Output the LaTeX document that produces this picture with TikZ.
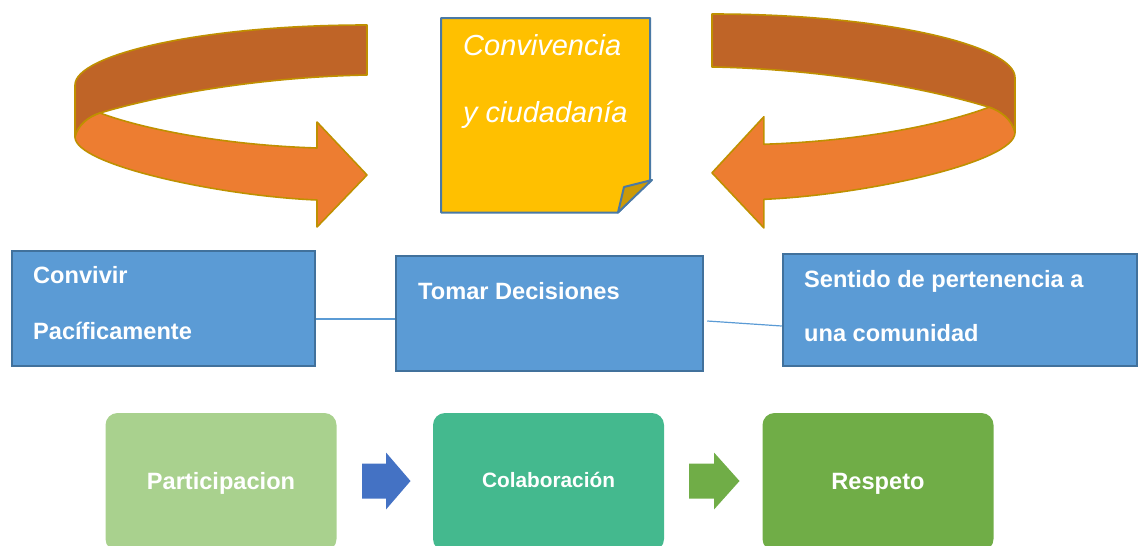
\documentclass[tikz,border=0pt]{standalone}
\usepackage{fontspec}
\setmainfont{Liberation Sans}
\definecolor{ringdark}{HTML}{BF6427}
\definecolor{ringfront}{HTML}{ED7D31}
\definecolor{ringborder}{HTML}{BF9000}
\definecolor{notefill}{HTML}{FFC000}
\definecolor{notefold}{HTML}{CC9A06}
\definecolor{noteborder}{HTML}{4A79A5}
\definecolor{boxfill}{HTML}{5B9BD5}
\definecolor{boxborder}{HTML}{41719C}
\definecolor{linkcol}{HTML}{5B9BD5}
\definecolor{partfill}{HTML}{A9D18E}
\definecolor{colabfill}{HTML}{44B98E}
\definecolor{respfill}{HTML}{70AD47}
\definecolor{bluearrow}{HTML}{4472C4}
\definecolor{greenarrow}{HTML}{70AD47}
\newcommand\ribbonarrowshape{%
  % back (inner) band
  \path[bandline, fill=ringdark]
    (367,25) .. controls (200,25) and (75,55) .. (75,85)
    -- (75,137)
    .. controls (78,125) and (88,117) .. (100,113)
    .. controls (160,95) and (260,77) .. (367,75) -- cycle;
  % front band with arrow head
  \path[bandline, fill=ringfront]
    (100,113) .. controls (140,128) and (220,145) .. (317,148)
    -- (317,122) -- (367,175) -- (317,227) -- (317,200)
    .. controls (220,196) and (75,165) .. (75,137)
    .. controls (78,125) and (88,117) .. (100,113) -- cycle;
}
\begin{document}
\begin{tikzpicture}[x=1pt,y=-1pt,
  bandline/.style={draw=ringborder, line width=1.6pt, line join=round},
  bluebox/.style={rectangle, draw=boxborder, fill=boxfill, line width=2.5pt, inner sep=0pt},
  boxtext/.style={text=white, font=\fontsize{23.6}{28}\selectfont\bfseries, anchor=base west, inner sep=0pt},
  notetext/.style={text=white, font=\fontsize{29}{34}\selectfont\itshape, anchor=base west, inner sep=0pt},
  stepbox/.style={rectangle, rounded corners=12pt, inner sep=0pt, minimum width=231pt, minimum height=138pt},
  steptext/.style={text=white, font=\fontsize{23.6}{28}\selectfont\bfseries, anchor=base, inner sep=0pt},
  link/.style={draw=linkcol, line width=1.2pt}
]
\useasboundingbox (0,0) rectangle (1138,546);
\clip (0,0) rectangle (1138,546);

% curved arrows
\begin{scope}
  \ribbonarrowshape
\end{scope}
\begin{scope}[shift={(1015,14)}, xscale=-1.0377, yscale=1.059, shift={(-75,-25)}]
  \ribbonarrowshape
\end{scope}

% sticky note
\node[rectangle, minimum width=209pt, minimum height=194pt, inner sep=0pt] (note) at (545.5,115) {};
\path[draw=noteborder, fill=notefill, line width=2pt, line join=round]
  (441,18) -- (650,18) -- (650,180) -- (618,212.5) -- (441,212.5) -- cycle;
\path[draw=noteborder, fill=notefold, line width=2pt, line join=round]
  (652,180) -- (624,187) -- (618,212.5) -- cycle;
\node[notetext] (notet1) at (463,55) {Convivencia};
\node[notetext] (notet2) at (463,122) {y ciudadanía};

% blue boxes
\node[bluebox, minimum width=303pt, minimum height=115pt] (b1) at (163.5,308.5) {};
\node[bluebox, minimum width=307pt, minimum height=115pt] (b2) at (549.5,313.5) {};
\node[bluebox, minimum width=354pt, minimum height=112pt] (b3) at (960,310) {};
\node[boxtext] (b1t1) at (33,283) {Convivir};
\node[boxtext] (b1t2) at (33,339) {Pacíficamente};
\node[boxtext] (b2t1) at (418,299) {Tomar Decisiones};
\node[boxtext] (b3t1) at (804,287) {Sentido de pertenencia a};
\node[boxtext] (b3t2) at (804,341) {una comunidad};

\draw[link] ([yshift=-10.5pt]b1.east) -- ([yshift=-5.5pt]b2.west);
\draw[link] ([xshift=3pt,yshift=-7.5pt]b2.east) -- ([yshift=-16pt]b3.west);

% bottom steps
\node[stepbox, fill=partfill] (pA) at (221,482) {};
\node[stepbox, fill=colabfill] (pB) at (548.5,482) {};
\node[stepbox, fill=respfill] (pC) at (878,482) {};
\node[steptext] (tA) at (221,489.5) {Participacion};
\node[steptext, font=\fontsize{20.8}{25}\selectfont\bfseries] (tB) at (548.5,487.5) {Colaboración};
\node[steptext] (tC) at (878,489) {Respeto};

% block arrows
\path[fill=bluearrow] (362,463.5) -- (386,463.5) -- (386,452.5) -- (410.5,481) -- (386,509.5) -- (386,498.5) -- (362,498.5) -- cycle;
\path[fill=greenarrow] (689,463.5) -- (714,463.5) -- (714,452.5) -- (739.5,481) -- (714,509.5) -- (714,498.5) -- (689,498.5) -- cycle;
\end{tikzpicture}
\end{document}
